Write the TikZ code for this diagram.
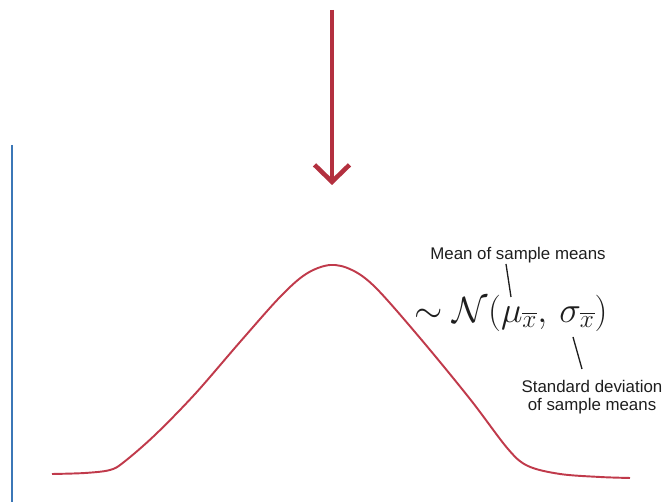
\documentclass[tikz,border=0pt]{standalone}
\usepackage{fontspec}
\usepackage{amsmath}
\usepackage{tikz}
\usetikzlibrary{
  arrows.meta,
  positioning
}
\newfontfamily\labelfont{Liberation Sans}
\definecolor{smArrow}{HTML}{B3303F}
\definecolor{smCurve}{HTML}{C03A4B}
\definecolor{smAxis}{HTML}{3B77B7}
\definecolor{smInk}{HTML}{1E1E1E}
\tikzset{
  dropline/.style={
    -{Straight Barb[length=3.4mm, width=7mm]}, line width=2.6pt, smArrow
  },
  density/.style={line width=1.1pt, smCurve, line join=round},
  axisline/.style={line width=1.3pt, smAxis},
  notelabel/.style={font=\labelfont\fontsize{9.6}{10.6}\selectfont, text=smInk,
    align=center, inner sep=0pt},
  formula/.style={font=\fontsize{20}{24}\selectfont, text=smInk, inner sep=0pt},
  pointer/.style={line width=0.75pt, smInk}
}
\begin{document}
\begin{tikzpicture}[x=0.02cm, y=-0.02cm]
  \useasboundingbox (0,0) rectangle (667,502);

  % left axis
  \coordinate (axtop) at (12,145);
  \coordinate (axbot) at (12,502);
  \draw[axisline] (axtop) -- (axbot);

  % arrow coming down onto the distribution
  \coordinate (arrtop) at (332,10);
  \coordinate (arrtip) at (332,185);
  \draw[dropline] (arrtop) -- (arrtip);

  % sampling distribution
  \draw[density] plot[smooth, tension=0.55] coordinates {
    (52,474) (85,473) (110,470) (124,462) (155,435) (195,394)
    (240,342) (280,297) (306,274) (330,265) (352,270) (376,288)
    (420,338) (470,399) (508,449) (528,466) (560,474) (600,477) (630,478)
  };

  % formula and its notes
  \node[formula] (dist) at (511,313)
    {$\sim\mathcal{N}(\mu_{\overline{x}},\,\sigma_{\overline{x}})$};
  \node[notelabel] (meanlbl) at (518,255) {Mean of sample means};
  \node[notelabel] (sdlbl) at (592,397) {Standard deviation\\of sample means};

  \coordinate (mutop) at (506,264);
  \coordinate (mubot) at (511,297);
  \draw[pointer] (mutop) -- (mubot);
  \coordinate (sdtop) at (573,337);
  \coordinate (sdbot) at (582,369);
  \draw[pointer] (sdtop) -- (sdbot);
\end{tikzpicture}
\end{document}
